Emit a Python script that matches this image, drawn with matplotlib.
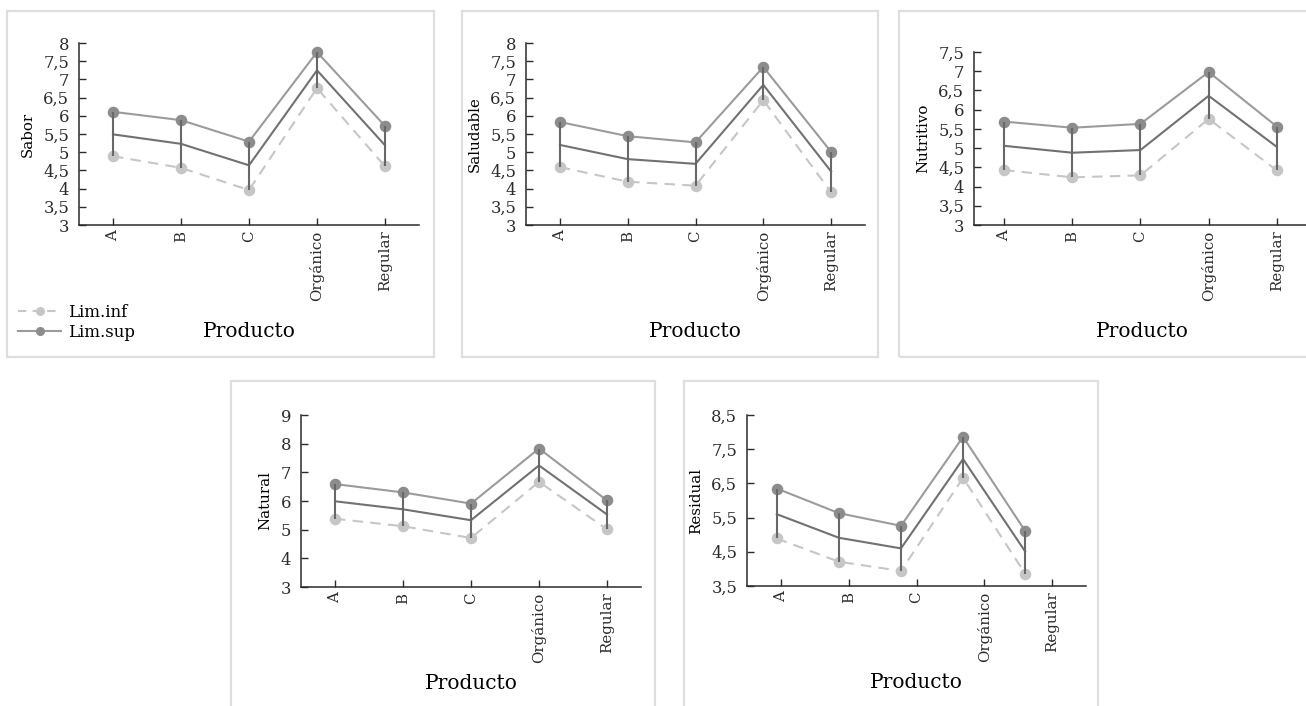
import numpy as np
import matplotlib
matplotlib.use("Agg")
import matplotlib.pyplot as plt
from matplotlib.patches import Rectangle
from matplotlib.ticker import FuncFormatter
from matplotlib.lines import Line2D

plt.rcParams["font.family"] = ["DejaVu Serif"]

productos = ["A", "B", "C", "Orgánico", "Regular"]

sabor_inf = [4.89, 4.57, 3.96, 6.76, 4.61]
sabor_media = [5.49, 5.23, 4.64, 7.25, 5.19]
sabor_sup = [6.11, 5.88, 5.29, 7.75, 5.72]

saludable_inf = [4.59, 4.19, 4.08, 6.43, 3.90]
saludable_media = [5.20, 4.81, 4.68, 6.85, 4.47]
saludable_sup = [5.83, 5.44, 5.27, 7.34, 5.01]

nutritivo_inf = [4.43, 4.24, 4.29, 5.76, 4.42]
nutritivo_media = [5.06, 4.88, 4.95, 6.36, 5.03]
nutritivo_sup = [5.69, 5.53, 5.63, 6.98, 5.56]

natural_inf = [5.38, 5.12, 4.71, 6.67, 5.01]
natural_media = [5.99, 5.71, 5.33, 7.24, 5.53]
natural_sup = [6.59, 6.30, 5.91, 7.83, 6.02]

residual_inf = [4.89, 4.21, 3.94, 6.66, 3.86]
residual_media = [5.60, 4.91, 4.60, 7.21, 4.51]
residual_sup = [6.35, 5.63, 5.26, 7.86, 5.11]

W, H = 1306, 706
C_INF = "#c6c6c6"
C_SUP_LINE = "#9b9b9b"
C_SUP_MK = "#8c8c8c"
C_MEAN = "#717171"
C_BAR = "#686868"
C_AXIS = "#2b2b2b"


def px_rect(x0, y0, x1, y1):
    # pixel box (top-left origin) -> figure fraction
    return [x0 / W, 1 - y1 / H, (x1 - x0) / W, (y1 - y0) / H]


def coma(v, pos):
    if abs(v - round(v)) < 1e-9:
        return "{:d}".format(int(round(v)))
    return "{:g}".format(v).replace(".", ",")


def panel(fig, frame, rect, ylabel, inf, media, sup, ylim, ystep,
          xlim=(-0.5, 4.5), data_xlim=None, xpad=15):
    fig.add_artist(Rectangle((frame[0] / W, 1 - frame[3] / H),
                             (frame[2] - frame[0]) / W,
                             (frame[3] - frame[1]) / H,
                             transform=fig.transFigure, fill=False,
                             edgecolor="#dedede", linewidth=1.6))
    ax = fig.add_axes(px_rect(*rect))
    ax.set_xlim(*xlim)
    ax.set_ylim(*ylim)
    ax.set_xticks(range(len(productos)))
    ax.set_xticklabels(productos, rotation=90, fontsize=10.8)
    ax.set_yticks(np.arange(ylim[0], ylim[1] + 1e-9, ystep))
    ax.yaxis.set_major_formatter(FuncFormatter(coma))
    ax.tick_params(axis="y", direction="in", length=5, width=1,
                   colors=C_AXIS, labelsize=11.8, pad=7)
    ax.tick_params(axis="x", direction="in", length=5, width=1,
                   colors=C_AXIS, pad=4)
    for s in ["top", "right"]:
        ax.spines[s].set_visible(False)
    for s in ["left", "bottom"]:
        ax.spines[s].set_color(C_AXIS)
        ax.spines[s].set_linewidth(1.1)
    ax.set_ylabel(ylabel, fontsize=10.8, labelpad=6)
    ax.set_xlabel("Producto", fontsize=14.5, labelpad=xpad)
    ax.patch.set_visible(False)

    dax = ax
    if data_xlim is not None:
        dax = fig.add_axes(px_rect(*rect))
        dax.set_xlim(*data_xlim)
        dax.set_ylim(*ylim)
        dax.axis("off")

    x = np.arange(len(productos))
    dax.plot(x, inf, color=C_INF, lw=1.5, dashes=(5, 3.5), marker="o",
             ms=7.3, mfc=C_INF, mec=C_INF, zorder=2, clip_on=False)
    dax.plot(x, sup, color=C_SUP_LINE, lw=1.5, marker="o", ms=7.3,
             mfc=C_SUP_MK, mec=C_SUP_MK, zorder=3, clip_on=False)
    dax.plot(x, media, color=C_MEAN, lw=1.5, zorder=4, clip_on=False)
    dax.vlines(x, inf, sup, color=C_BAR, lw=1.5, zorder=5)
    return ax


fig = plt.figure(figsize=(W / 100, H / 100), dpi=100)

panel(fig, (7, 11, 434, 357), (79, 43, 419, 225), "Sabor",
      sabor_inf, sabor_media, sabor_sup, (3, 8), 0.5)
panel(fig, (462, 11, 878, 357), (526, 43, 865, 225), "Saludable",
      saludable_inf, saludable_media, saludable_sup, (3, 8), 0.5)
panel(fig, (899, 11, 1320, 357), (974, 52, 1311, 225), "Nutritivo",
      nutritivo_inf, nutritivo_media, nutritivo_sup, (3, 7.5), 0.5,
      xlim=(-0.44, 4.5))
panel(fig, (231, 381, 655, 720), (301, 415, 641, 587), "Natural",
      natural_inf, natural_media, natural_sup, (3, 9), 1, xpad=8)
panel(fig, (684, 381, 1098, 720), (747, 415, 1086, 586), "Residual",
      residual_inf, residual_media, residual_sup, (3.5, 8.5), 1,
      data_xlim=(-0.48, 4.98), xpad=8)

handles = [
    Line2D([], [], color=C_INF, lw=1.5, dashes=(4, 3), marker="o", ms=5.5,
           mfc=C_INF, mec=C_INF),
    Line2D([], [], color=C_SUP_LINE, lw=1.5, marker="o", ms=5.5,
           mfc=C_SUP_MK, mec=C_SUP_MK),
]
fig.legend(handles, ["Lim.inf", "Lim.sup"], loc="upper left",
           bbox_to_anchor=(18 / W, 1 - 304 / H), frameon=False,
           fontsize=12, handlelength=2.6, handletextpad=0.4,
           labelspacing=0.15, borderpad=0, borderaxespad=0)

fig.savefig("out.png", dpi=100)
